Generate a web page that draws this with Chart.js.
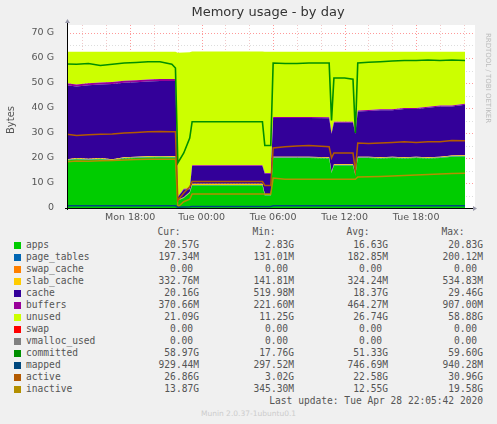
<!DOCTYPE html>
<html><head><meta charset="utf-8">
<script src="https://cdn.jsdelivr.net/npm/chart.js@4/dist/chart.umd.min.js"></script>
<style>
body{margin:0;background:#f0f0f0;width:497px;height:424px;overflow:hidden;position:relative;font-family:"DejaVu Sans Mono",monospace;}
#wrap{position:absolute;left:0;top:0;width:497px;height:224px;}
.r{position:absolute;font-size:9.6px;color:#555;white-space:pre;line-height:12px;}
.sq{position:absolute;width:7px;height:7px;}
</style></head><body>
<div id="wrap"><canvas id="c"></canvas></div>
<div id="leg"></div>
<script>
const hours=[12.7,13.5,14.5,15.5,16.5,17.5,18.5,19.5,20.5,21.5,21.8,22.0,22.5,23.0,23.2,25,27,29.1,29.3,29.8,30.0,31,32,33,34.7,34.9,35.1,36,36.7,36.9,37.1,38,39,40,41,42,43,44,45,46.1];
const apps=[19,19.5,19.2,19.5,19,19.8,20,20.2,20.3,20.2,20.2,3,4,6,9,9,9,9,5,5,20,20,20,20,19.8,14,17,17,17,13,20,20,19.8,20,19.8,20,19.8,20,20.5,20.6];
const pageTables=[0.19,0.19,0.19,0.19,0.19,0.19,0.19,0.19,0.19,0.19,0.19,0.13,0.14,0.15,0.17,0.17,0.17,0.17,0.16,0.16,0.19,0.19,0.19,0.19,0.19,0.19,0.19,0.19,0.19,0.19,0.2,0.2,0.2,0.2,0.2,0.2,0.2,0.2,0.2,0.2];
const slabCache=[0.33,0.33,0.33,0.33,0.33,0.33,0.33,0.33,0.33,0.33,0.33,0.14,0.2,0.3,0.5,0.5,0.5,0.5,0.4,0.4,0.33,0.33,0.33,0.33,0.33,0.33,0.33,0.33,0.33,0.33,0.33,0.33,0.33,0.33,0.33,0.33,0.33,0.33,0.33,0.33];
const cache=[29.6,28.6,29.4,29.4,30.1,29.8,29.8,29.9,30.0,30.1,30.1,1,3.1,1.1,7.1,7.1,7.1,7.1,8.1,8.1,15.5,15.5,15.5,15.5,15.6,15.1,16.6,16.6,16.6,16.1,18.1,18.3,18.8,18.6,19.3,19.1,19.8,20.1,19.6,20.2];
const buffers=[0.8,0.8,0.8,0.8,0.8,0.8,0.8,0.8,0.8,0.8,0.8,0.22,0.25,0.3,0.3,0.3,0.3,0.3,0.3,0.3,0.4,0.4,0.4,0.4,0.4,0.4,0.4,0.4,0.4,0.4,0.37,0.37,0.37,0.37,0.37,0.37,0.37,0.37,0.37,0.37];
const unused=[12.6,13.1,12.6,12.3,12.1,11.6,11.4,11.1,10.9,10.9,10.9,57.6,54.5,54.5,45.5,45.5,45.5,45.5,48.5,48.5,26.1,26.1,26.1,26.1,26.2,32.5,28,28,28,32.5,23.5,23.3,23,23,22.5,22.5,22,21.5,21.5,20.8];
const committed=[57.6,57.5,57.8,57,57.5,58,58.2,58.5,58.5,57.5,56,18,22,28,34.5,34.5,34.5,34.5,25,25,58,57.8,57.8,58,58,35,52,52,51.5,30,58,58.3,58.5,58.8,59,59,59.2,59,59.2,59];
const mapped=[0.9,0.9,0.9,0.9,0.9,0.9,0.9,0.9,0.9,0.9,0.9,0.3,0.4,0.5,0.6,0.6,0.6,0.6,0.6,0.6,0.9,0.9,0.9,0.9,0.9,0.9,0.9,0.9,0.9,0.9,0.93,0.93,0.93,0.93,0.93,0.93,0.93,0.93,0.93,0.93];
const active=[29.5,29,29.3,29.5,29.6,30,30.2,30.5,30.6,30.5,30.5,3,6,8.5,10.6,10.6,10.6,10.6,9,9,24,24.5,24.8,25,24.5,20,22,22,22,15,26,25.8,26,26.2,26.5,26.2,26.5,26.5,27,26.9];
const inactive=[18.5,18.8,18.7,18.9,19,19.2,19.4,19.5,19.5,19.5,19.5,0.4,2.5,3.5,5.6,5.6,5.6,5.6,5.6,5.6,12,11.5,11.5,11.5,11.5,11.5,11.5,11.5,11.5,11.5,12.4,12.5,12.6,12.8,13,13.2,13.4,13.6,13.8,13.9];
const xTicks=[18,24,30,36,42];
const xTickLabels=["Mon 18:00","Tue 00:00","Tue 06:00","Tue 12:00","Tue 18:00"];
const yTicks=[0,10,20,30,40,50,60,70];
const yTickLabels=["0","10 G","20 G","30 G","40 G","50 G","60 G","70 G"];
const legendRows=[
["apps","#00cc00","20.57G","2.83G","16.63G","20.83G"],
["page_tables","#0066b3","197.34M","131.01M","182.85M","200.12M"],
["swap_cache","#ff8000","0.00","0.00","0.00","0.00"],
["slab_cache","#ffcc00","332.76M","141.81M","324.24M","534.83M"],
["cache","#330099","20.16G","519.98M","18.37G","29.46G"],
["buffers","#990099","370.66M","221.60M","464.27M","907.00M"],
["unused","#ccff00","21.09G","11.25G","26.74G","58.88G"],
["swap","#ff0000","0.00","0.00","0.00","0.00"],
["vmalloc_used","#808080","0.00","0.00","0.00","0.00"],
["committed","#008f00","58.97G","17.76G","51.33G","59.60G"],
["mapped","#00487d","929.44M","297.52M","746.69M","940.28M"],
["active","#b35a00","26.86G","3.02G","22.58G","30.96G"],
["inactive","#b38f00","13.87G","345.30M","12.55G","19.58G"]];

const pts=a=>a.map((v,i)=>({x:hours[i],y:v}));
function area(label,arr,col,first){return {label,data:pts(arr),backgroundColor:col,borderColor:col,borderWidth:0,fill:first?'origin':'-1',stack:'s',pointRadius:0,tension:0,order:2};}
function line(label,arr,col,w){return {label,data:pts(arr),borderColor:col,backgroundColor:col,borderWidth:w,fill:false,stack:label,pointRadius:0,tension:0,order:1};}

const deco={id:'deco',
beforeDraw(ch){const c=ch.ctx,a=ch.chartArea;c.save();c.fillStyle='#fff';c.fillRect(a.left,a.top-8,a.right-a.left+10,a.bottom-a.top+8);
c.setLineDash([1,2]);c.lineWidth=1;
for(let h=14;h<=46;h+=2){const x=Math.round(ch.scales.x.getPixelForValue(h))+0.5;c.strokeStyle=(h%6===0)?'#ff9999':'#f0c8c8';c.beginPath();c.moveTo(x,a.top-8);c.lineTo(x,a.bottom);c.stroke();}
for(let g=5;g<=70;g+=5){const y=Math.round(ch.scales.y.getPixelForValue(g))+0.5;c.strokeStyle=(g%10===0)?'#ff9999':'#dddddd';c.beginPath();c.moveTo(a.left,y);c.lineTo(a.right+10,y);c.stroke();}
c.restore();},
afterDraw(ch){const c=ch.ctx,a=ch.chartArea;c.save();
c.strokeStyle='#000';c.lineWidth=1;c.beginPath();c.moveTo(a.left-2,a.bottom+0.5);c.lineTo(a.right+8,a.bottom+0.5);c.stroke();
c.beginPath();c.moveTo(a.left+0.5,a.bottom+2);c.lineTo(a.left+0.5,a.top-10);c.stroke();
c.fillStyle='#9999aa';c.beginPath();c.moveTo(a.right+8,a.bottom-2);c.lineTo(a.right+12,a.bottom+0.5);c.lineTo(a.right+8,a.bottom+3);c.fill();
c.beginPath();c.moveTo(a.left-2,a.top-10);c.lineTo(a.left+0.5,a.top-14);c.lineTo(a.left+3,a.top-10);c.fill();
c.fillStyle='#333';c.font='13px "DejaVu Sans"';c.textAlign='center';c.textBaseline='middle';c.fillText('Memory usage - by day',268,13);
c.font='10px "DejaVu Sans"';c.fillStyle='#555';c.translate(11,120);c.rotate(-Math.PI/2);c.fillText('Bytes',0,0);c.restore();
c.save();c.font='7px "DejaVu Sans"';c.fillStyle='#bbb';c.translate(488,78);c.rotate(Math.PI/2);c.textAlign='center';c.textBaseline='middle';c.fillText('RRDTOOL / TOBI OETIKER',0,0);c.restore();}};

new Chart(document.getElementById('c'),{type:'line',
data:{datasets:[area('apps',apps,'#00cc00',true),area('page_tables',pageTables,'#0066b3'),area('slab_cache',slabCache,'#ffcc00'),area('cache',cache,'#330099'),area('buffers',buffers,'#990099'),area('unused',unused,'#ccff00'),
line('committed',committed,'#008f00',1.6),line('mapped',mapped,'#00487d',1.5),line('active',active,'#b35a00',1.5),line('inactive',inactive,'#b38f00',1.5)]},
options:{animation:false,responsive:true,maintainAspectRatio:false,devicePixelRatio:1,
layout:{padding:{top:33,right:32,left:0,bottom:0}},
plugins:{legend:{display:false},tooltip:{enabled:false}},
scales:{
x:{type:'linear',min:12.7,max:46.1,grid:{display:false},border:{display:false},
afterBuildTicks:s=>{s.ticks=xTicks.map(v=>({value:v}));},
ticks:{autoSkip:false,maxRotation:0,color:'#555',font:{family:'DejaVu Sans',size:9.5},padding:-4,callback:(v)=>xTickLabels[xTicks.indexOf(v)]},
afterFit:s=>{s.height=16;}},
y:{stacked:true,min:0,max:70,grid:{display:false},border:{display:false},
afterBuildTicks:s=>{s.ticks=yTicks.map(v=>({value:v}));},
ticks:{color:'#555',font:{family:'DejaVu Sans',size:9.5},padding:5,callback:(v)=>yTickLabels[yTicks.indexOf(v)]},
afterFit:s=>{s.width=67;}}}},
plugins:[deco]});

const leg=document.getElementById('leg');
let h='';
const cols=[199,294,388,483];
['Cur:','Min:','Avg:','Max:'].forEach((t,i)=>{h+=`<div class="r" style="left:${cols[i]-60}px;width:60px;text-align:center;top:226px">${t}</div>`;});
legendRows.forEach((r,k)=>{const y=239+k*12;
h+=`<div class="sq" style="left:14px;top:${y+3}px;background:${r[1]}"></div><div class="r" style="left:26px;top:${y}px">${r[0]}</div>`;
for(let i=0;i<4;i++){const w=(r[2+i]==='0.00')?6:0;h+=`<div class="r" style="left:${cols[i]-90-w}px;width:90px;text-align:right;top:${y}px">${r[2+i]}</div>`;}});
h+=`<div class="r" style="right:14px;top:395px">Last update: Tue Apr 28 22:05:42 2020</div>`;
h+=`<div class="r" style="left:0;width:497px;text-align:center;top:408px;font-size:7.5px;color:#ccc;font-family:'DejaVu Sans'">Munin 2.0.37-1ubuntu0.1</div>`;
leg.innerHTML=h;
</script></body></html>
